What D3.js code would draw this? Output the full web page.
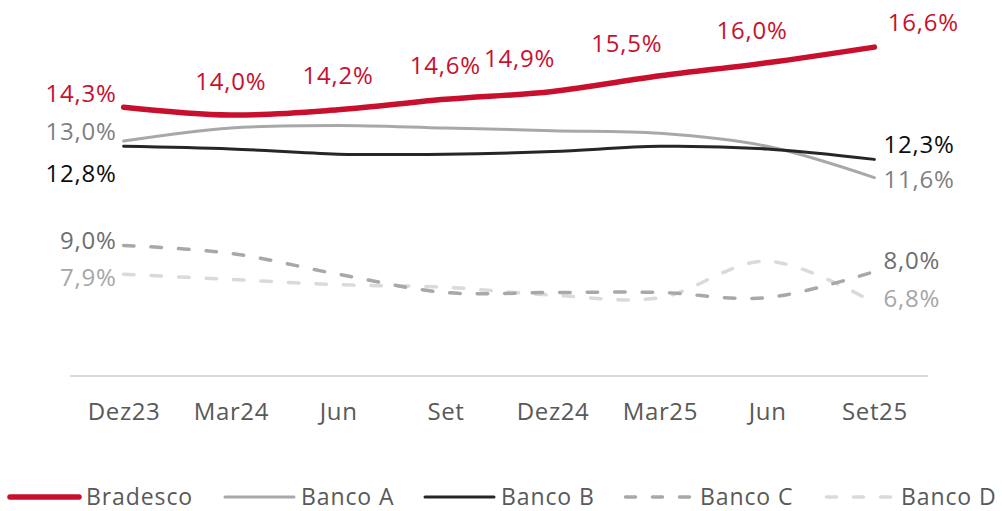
<!DOCTYPE html>
<html><head><meta charset="utf-8">
<script src="https://cdn.jsdelivr.net/npm/d3@7/dist/d3.min.js"></script>
<style>
html,body{margin:0;padding:0;background:#fff;}
svg{display:block;font-family:"Open Sans",sans-serif;}
</style></head>
<body>
<svg id="chart" width="1002" height="511"></svg>
<script>
// ---- data ----
const categories = ["Dez23","Mar24","Jun","Set","Dez24","Mar25","Jun","Set25"];
const catKeys = categories.map((c,i)=>i);
const bradesco = [14.3,14.0,14.2,14.6,14.9,15.5,16.0,16.6];
const bancoA   = [13.0,13.5,13.6,13.5,13.4,13.3,12.8,11.6];
const bancoB   = [12.8,12.7,12.5,12.5,12.6,12.8,12.7,12.3];
const bancoC   = [9.0,8.7,7.9,7.2,7.2,7.2,7.0,8.0];
const bancoD   = [7.9,7.7,7.5,7.4,7.1,7.0,8.4,6.8];
const seriesNames = ["Bradesco","Banco A","Banco B","Banco C","Banco D"];
const fmt = v => d3.format(".1f")(v).replace(".", ",") + "%";

// ---- styles/layout ----
const styles = [
  {color:"#C8102E", width:5.5, dash:null, label:"#C8102E"},
  {color:"#A8A8A8", width:3, dash:null, label:"#7F7F7F"},
  {color:"#262626", width:3, dash:null, label:"#0D0D0D"},
  {color:"#A8A8A8", width:3.5, dash:"10.5,17", label:"#6E6E6E"},
  {color:"#DADADA", width:3.5, dash:"10.5,17", label:"#A6A6A6"}
];
const seriesData = [bradesco, bancoA, bancoB, bancoC, bancoD];

const svg = d3.select("#chart");
const x = d3.scalePoint().domain(catKeys).range([70, 928]).padding(0.5);
const y = d3.scaleLinear().domain([4, 18]).range([376, 10.6]);

// axis baseline + labels
const xAxis = d3.axisBottom(x).tickSize(0).tickPadding(27).tickFormat(i => categories[i]);
const gx = svg.append("g").attr("transform","translate(0,376)").call(xAxis);
gx.select(".domain").attr("stroke","#D9D9D9").attr("stroke-width",2).attr("d","M70,0H928");
gx.selectAll("text").attr("fill","#595959").attr("font-size",24)
  .attr("font-family","'Open Sans',sans-serif").attr("dy","0").attr("y",44)
  .attr("letter-spacing",0.6);

// lines
const line = d3.line().x((d,i)=>x(i)).y(d=>y(d)).curve(d3.curveCardinal.tension(0));
const drawOrder = [4,3,1,2,0];
drawOrder.forEach(k=>{
  const s = styles[k];
  svg.append("path").datum(seriesData[k])
    .attr("d", line).attr("fill","none")
    .attr("stroke", s.color).attr("stroke-width", s.width)
    .attr("stroke-linecap","round").attr("stroke-linejoin","round")
    .attr("stroke-dasharray", s.dash);
});

// Bradesco labels (all points)
const bradLabelOffsets = [[-7,-5,"end"],[0,-25,"middle"],[0,-26,"middle"],[0,-25,"middle"],[-33,-25,"middle"],[-33,-23.5,"middle"],[-15,-24,"middle"],[49,-16.5,"middle"]];
bradesco.forEach((v,i)=>{
  const o = bradLabelOffsets[i];
  svg.append("text").attr("x", x(i)+o[0]).attr("y", y(v)+o[1])
    .attr("text-anchor", o[2]).attr("fill", styles[0].label)
    .attr("font-size",24).attr("letter-spacing",0.8).text(fmt(v));
});

// first/last labels for other banks
const endLabelDy = [
  null,
  [-1, 10.5],   // Banco A: first, last
  [36, -6.5],   // Banco B
  [3.5, -2.5],  // Banco C
  [12, 4]       // Banco D
];
[1,2,3,4].forEach(k=>{
  const d = seriesData[k], n = d.length-1;
  svg.append("text").attr("x", x(0)-7).attr("y", y(d[0])+endLabelDy[k][0])
    .attr("text-anchor","end").attr("fill", styles[k].label).attr("font-size",24)
    .attr("letter-spacing",0.8).text(fmt(d[0]));
  svg.append("text").attr("x", x(n)+9).attr("y", y(d[n])+endLabelDy[k][1])
    .attr("text-anchor","start").attr("fill", styles[k].label).attr("font-size",24)
    .attr("letter-spacing",0.8).text(fmt(d[n]));
});

// legend
const legendX = [10, 225, 425, 624, 825];
const lg = svg.append("g").attr("transform","translate(0,497)");
seriesNames.forEach((name,k)=>{
  const s = styles[k];
  const g = lg.append("g").attr("transform",`translate(${legendX[k]},0)`);
  g.append("line").attr("x1", s.dash?1.5:0).attr("x2",69).attr("y1",0).attr("y2",0)
    .attr("stroke", s.color).attr("stroke-width", k===0?5.5:(s.dash?3.5:3))
    .attr("stroke-linecap","round").attr("stroke-dasharray", s.dash ? "10,17" : null);
  g.append("text").attr("x",76).attr("y",7.5).attr("fill","#595959").attr("font-size",23)
    .attr("letter-spacing",0.9).text(name);
});
</script>
</body></html>
